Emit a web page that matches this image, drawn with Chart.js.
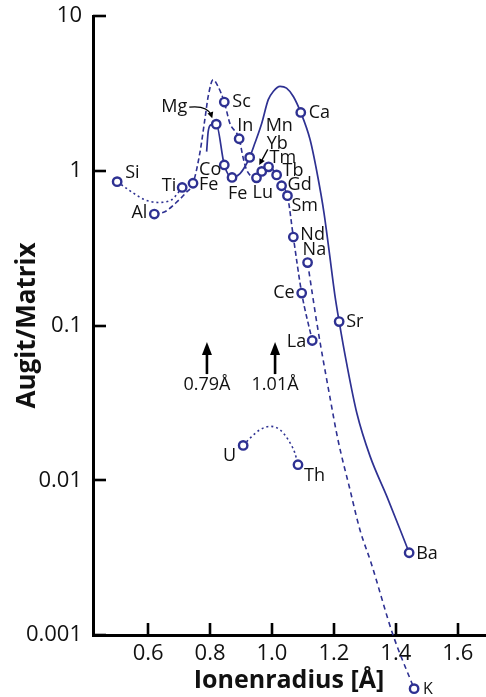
<!DOCTYPE html>
<html>
<head>
<meta charset="utf-8">
<script src="https://cdn.jsdelivr.net/npm/chart.js@4/dist/chart.umd.min.js"></script>
<style>
  html, body { margin: 0; padding: 0; background: #fff; }
  #wrap { width: 486px; height: 697px; position: relative; }
</style>
</head>
<body>
<div id="wrap"><canvas id="c" width="486" height="697"></canvas></div>
<script>
// Augit/Matrix partition coefficients against ionic radius (Å)
const elements = ['Si','Al','Ti','Fe','Mg','Sc','Co','Fe','In','Mn','Lu','Yb','Tm','Tb','Gd','Sm','Ca','Nd','Na','Ce','Sr','La','U','Th','Ba','K'];
const radii    = [0.50,0.62,0.71,0.745,0.82,0.846,0.846,0.871,0.894,0.928,0.95,0.967,0.989,1.015,1.031,1.05,1.093,1.069,1.115,1.096,1.217,1.13,0.907,1.084,1.443,1.459];
const ratios   = [0.85,0.525,0.78,0.83,2.0,2.78,1.09,0.905,1.61,1.22,0.90,0.99,1.06,0.94,0.80,0.69,2.38,0.373,0.255,0.162,0.106,0.080,0.0168,0.0126,0.0034,0.00045];

// Axis ticks
const xTickValues = [0.6, 0.8, 1.0, 1.2, 1.4, 1.6];
const xTickLabels = ['0.6', '0.8', '1.0', '1.2', '1.4', '1.6'];
const yTickValues = [0.001, 0.01, 0.1, 1, 10];
const yTickLabels = ['0.001', '0.01', '0.1', '1', '10'];

// Solid trend: Mg – Co – Fe – Mn – Ca – Sr – Ba
const solidX = [0.789,0.794,0.803,0.82,0.846,0.871,0.896,0.913,0.928,0.945,0.967,0.988,1.004,1.026,1.047,1.069,1.093,1.123,1.148,1.168,1.184,1.203,1.217,1.241,1.274,1.317,1.371,1.414,1.443];
const solidY = [1.33,1.79,1.98,2.0,1.09,0.905,0.956,1.066,1.22,1.51,2.03,2.88,3.25,3.51,3.42,3.02,2.38,1.59,0.915,0.535,0.309,0.158,0.106,0.0571,0.0272,0.01426,0.00786,0.00479,0.0034];

// Dash-dot trend: Al – Fe – Sc – In – REE – La
const reeX = [0.62,0.654,0.69,0.722,0.745,0.767,0.783,0.794,0.81,0.826,0.846,0.864,0.894,0.907,0.918,0.95,0.967,0.989,1.015,1.031,1.05,1.069,1.096,1.13];
const reeY = [0.525,0.543,0.621,0.721,0.83,1.30,2.13,3.02,3.87,3.5,2.78,2.03,1.61,1.21,1.015,0.90,0.99,1.06,0.94,0.80,0.69,0.373,0.162,0.080];

// Dashed trend: Na – K
const alkX = [1.115,1.1485,1.187,1.213,1.252,1.284,1.320,1.391,1.459];
const alkY = [0.255,0.0939,0.0346,0.0183,0.00869,0.00479,0.00293,0.001,0.00045];

// Dotted trends: Si – Ti and U – Th
const siX = [0.50,0.552,0.589,0.632,0.676,0.71];
const siY = [0.85,0.718,0.65,0.624,0.65,0.78];
const actX = [0.907,0.929,0.961,0.994,1.026,1.052,1.074,1.084];
const actY = [0.0168,0.0187,0.0212,0.0223,0.0212,0.0183,0.015,0.0126];

// Marked radii
const markerRadii  = [0.79, 1.01];
const markerLabels = ['0.79Å', '1.01Å'];

const FONT = "'Open Sans', 'Noto Sans', sans-serif";
const BLUE = '#2e3192';
const INK = '#111';

// Label placement per element: [dx, dy, align]
const labelPlace = [
  [8,-9,'left'], [-7,-1,'right'], [-6,-2,'right'], [6,2,'left'], [-29,-17,'right'],
  [8,0,'left'], [-3,5,'right'], [-4,16,'left'], [-2,-13,'left'], [16,-32,'left'],
  [-4,15,'left'], [5,-28,'left'], [1,-9,'left'], [6,-4,'left'], [6,-1,'left'],
  [4,10,'left'], [8,0,'left'], [7,-2,'left'], [-5,-13,'left'], [-7,0,'right'],
  [7,0,'left'], [-6,1,'right'], [-7,10,'right'], [6,11,'left'], [7,1,'left'], [9,1,'left']
];
const markerAnchor = 0.05; // y value where the radius arrows stand

const pts = (xs, ys) => xs.map((x, i) => ({ x: x, y: ys[i] }));

const lineSet = (xs, ys, dash, width) => ({
  data: pts(xs, ys),
  showLine: true,
  borderColor: BLUE,
  borderWidth: width,
  borderDash: dash,
  pointRadius: 0,
  cubicInterpolationMode: 'monotone',
  clip: false,
  order: 1
});

const overlay = {
  id: 'overlay',
  afterDatasetsDraw(chart) {
    const ctx = chart.ctx;
    const ca = chart.chartArea;
    const xs = chart.scales.x, ys = chart.scales.y;
    ctx.save();

    const meta = chart.getDatasetMeta(chart.data.datasets.length - 1);
    // markers lying beyond the axis range are skipped by the controller; draw them here
    meta.data.forEach(p => {
      if (p.y > ca.bottom || p.y < ca.top || p.x < ca.left || p.x > ca.right) p.draw(ctx);
    });

    // inward tick marks
    ctx.strokeStyle = '#000';
    ctx.lineWidth = 2.6;
    xs.ticks.forEach(t => {
      const px = Math.round(xs.getPixelForValue(t.value));
      ctx.beginPath(); ctx.moveTo(px, ca.bottom); ctx.lineTo(px, ca.bottom - 12); ctx.stroke();
    });
    ys.ticks.forEach(t => {
      const py = Math.round(ys.getPixelForValue(t.value));
      ctx.beginPath(); ctx.moveTo(ca.left, py); ctx.lineTo(ca.left + 13, py); ctx.stroke();
    });

    // element labels
    ctx.fillStyle = INK;
    ctx.textBaseline = 'middle';
    meta.data.forEach((p, i) => {
      const [dx, dy, al] = labelPlace[i];
      ctx.font = (elements[i] === 'K' ? '16px ' : '18px ') + FONT;
      ctx.textAlign = al;
      ctx.fillText(elements[i], p.x + dx, p.y + dy);
    });

    const arrowHead = (x, y, ang, len, wid) => {
      ctx.beginPath();
      ctx.moveTo(x, y);
      ctx.lineTo(x - len * Math.cos(ang) + wid * Math.sin(ang), y - len * Math.sin(ang) - wid * Math.cos(ang));
      ctx.lineTo(x - len * Math.cos(ang) - wid * Math.sin(ang), y - len * Math.sin(ang) + wid * Math.cos(ang));
      ctx.closePath();
      ctx.fill();
    };

    // pointer from the Mg label
    ctx.strokeStyle = '#000';
    ctx.fillStyle = '#000';
    ctx.lineWidth = 1.3;
    const mg = meta.data[4];
    ctx.beginPath();
    ctx.moveTo(mg.x - 27, mg.y - 17);
    ctx.quadraticCurveTo(mg.x - 9, mg.y - 19, mg.x - 5, mg.y - 9);
    ctx.stroke();
    arrowHead(mg.x - 4, mg.y - 6, Math.atan2(9, 3), 6, 3);

    // pointer from the Yb label
    const yb = meta.data[11];
    ctx.beginPath();
    ctx.moveTo(yb.x + 6, yb.y - 22);
    ctx.lineTo(yb.x - 1, yb.y - 9);
    ctx.stroke();
    arrowHead(yb.x - 2.5, yb.y - 6.5, Math.atan2(13, -7), 6, 3);

    // radius markers
    const base = ys.getPixelForValue(markerAnchor);
    markerRadii.forEach((r, i) => {
      const px = xs.getPixelForValue(r);
      ctx.lineWidth = 2.6;
      ctx.beginPath(); ctx.moveTo(px, base + 2); ctx.lineTo(px, base - 18); ctx.stroke();
      arrowHead(px, base - 30, -Math.PI / 2, 13, 5);
      ctx.fillStyle = INK;
      ctx.font = '18px ' + FONT;
      ctx.textAlign = 'center';
      ctx.textBaseline = 'middle';
      ctx.fillText(markerLabels[i], px, base + 13);
      ctx.fillStyle = '#000';
    });
    ctx.restore();
  }
};

new Chart(document.getElementById('c').getContext('2d'), {
  type: 'scatter',
  data: {
    datasets: [
      lineSet(solidX, solidY, [], 1.7),
      lineSet(reeX, reeY, [5, 3], 1.6),
      lineSet(alkX, alkY, [5, 4], 1.6),
      lineSet(siX, siY, [2, 3], 1.6),
      lineSet(actX, actY, [2, 3], 1.6),
      {
        data: pts(radii, ratios),
        showLine: false,
        pointRadius: 4.2,
        pointBorderWidth: 2.4,
        pointBackgroundColor: '#fff',
        pointBorderColor: BLUE,
        clip: false,
        order: 0
      }
    ]
  },
  options: {
    responsive: false,
    animation: false,
    devicePixelRatio: 1,
    layout: { autoPadding: false, padding: { left: 0, right: 1, top: 16, bottom: 0 } },
    plugins: { legend: { display: false }, tooltip: { enabled: false } },
    scales: {
      x: {
        type: 'linear',
        min: 0.422,
        max: 1.688,
        afterBuildTicks: s => { s.ticks = xTickValues.map(v => ({ value: v })); },
        afterFit: s => { s.height = 62; s.paddingLeft = 0; s.paddingRight = 0; },
        ticks: {
          callback: (v, i) => xTickLabels[i],
          font: { family: FONT, size: 22 },
          color: INK,
          padding: 6,
          maxRotation: 0,
          autoSkip: false
        },
        grid: { display: false, drawTicks: false },
        border: { display: true, color: '#000', width: 3 },
        title: {
          display: true,
          text: 'Ionenradius [Å]',
          font: { family: FONT, size: 25, weight: 'bold' },
          color: INK,
          padding: { top: 0, bottom: 1 }
        }
      },
      y: {
        type: 'logarithmic',
        min: 0.001,
        max: 10,
        afterBuildTicks: s => { s.ticks = yTickValues.map(v => ({ value: v })); },
        afterFit: s => { s.width = 93; s.paddingTop = 0; s.paddingBottom = 0; },
        ticks: {
          callback: (v, i) => yTickLabels[i],
          font: { family: FONT, size: 22 },
          color: INK,
          padding: 11,
          autoSkip: false
        },
        grid: { display: false, drawTicks: false },
        border: { display: true, color: '#000', width: 3 },
        title: {
          display: true,
          text: 'Augit/Matrix',
          font: { family: FONT, size: 26, weight: 'bold' },
          color: INK,
          padding: { top: 12, bottom: 0 }
        }
      }
    }
  },
  plugins: [overlay]
});
</script>
</body>
</html>
